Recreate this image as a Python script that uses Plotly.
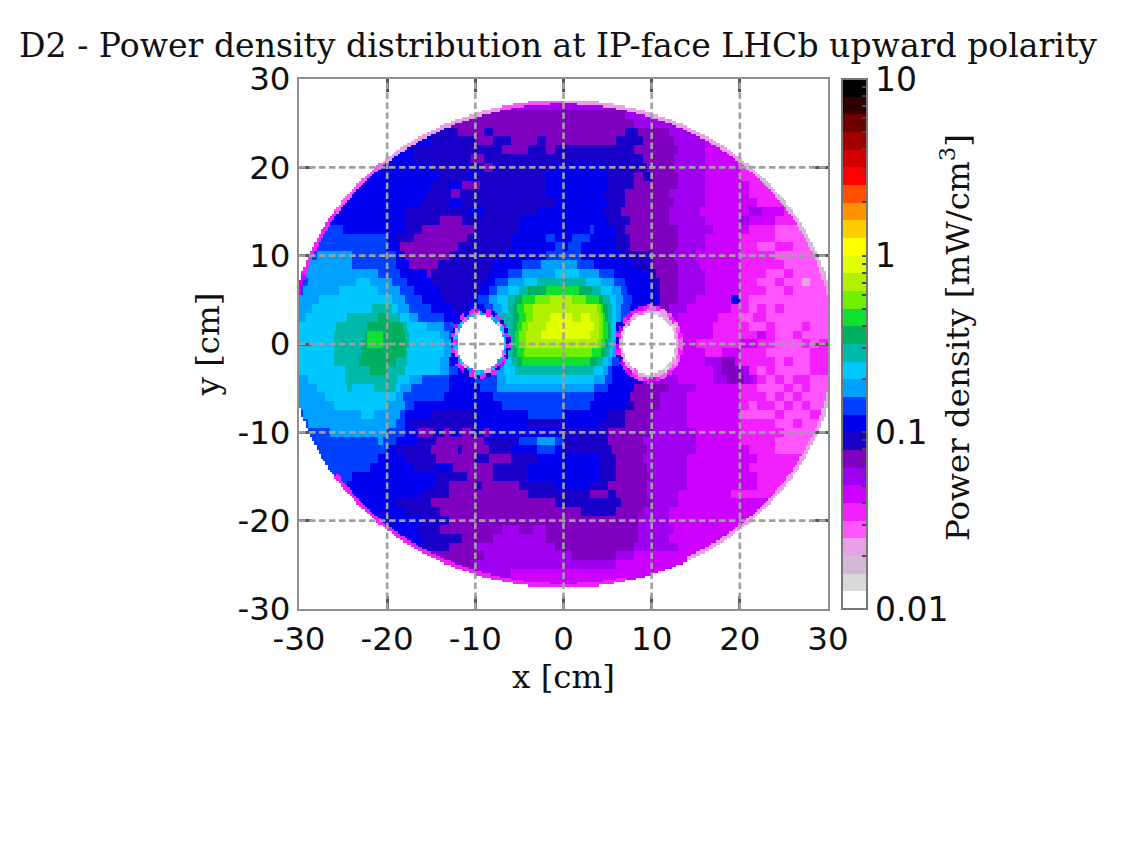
import numpy as np
import plotly.graph_objects as go

TITLE = "D2 - Power density distribution at IP-face LHCb upward polarity"
CB_TITLE = "Power density [mW/cm<sup>3</sup>]"
BAND_COLORS = ["#ffffff", "#d9d9d9", "#d4b8d8", "#e8a0e8", "#ff55ff", "#f020ff", "#cc00ff", "#a000f0",
               "#8000c0", "#1800c8", "#0000f0", "#0040ff", "#00a0ff", "#00c8ff", "#00b8a8", "#00b060",
               "#10e030", "#70f000", "#b0f000", "#e0ff00", "#ffff00", "#ffcc00", "#ff9000", "#ff5000",
               "#ff0000", "#d00000", "#a00000", "#700000", "#300000", "#000000"]
AXIS_TICKS = [-30, -20, -10, 0, 10, 20, 30]
AXIS_LABELS = ["-30", "-20", "-10", "0", "10", "20", "30"]
CB_TICKS = [0.01, 0.1, 1, 10]
CB_LABELS = ["0.01", "0.1", "1", "10"]
CB_MINOR = [0.02, 0.03, 0.04, 0.05, 0.06, 0.07, 0.08, 0.09, 0.2, 0.3, 0.4, 0.5, 0.6, 0.7, 0.8, 0.9,
            2, 3, 4, 5, 6, 7, 8, 9]

# Colour band for each row (y, in cm, from +27 to -27): "band:x_end" runs.
ROW_Y = list(range(27, -28, -1))
ROWS = [
    "7:30",
    "7:-10 8:7 7:30",
    "8:8 7:30",
    "9:-12 8:-9 9:-8 8:7 9:8.5 8:12 7:30",
    "a:-15 9:-10 8:-8 9:-6 8:-3 9:-2 8:6 9:9 8:12.5 7:16 6:30",
    "a:-17 9:-7 8:-4 9:-2 8:-1 9:8 8:13 7:16 6:30",
    "a:-17 9:-10.5 8:-9 9:9 8:12.5 7:16 6:30",
    "a:-15 9:-9 8:-8 9:-1 a:5 9:9.5 8:12.5 7:16 6:20 5:30",
    "a:-14 9:-11 a:-10 9:-2 a:5 9:8 8:9 9:10 8:13 7:16 6:20 5:30",
    "a:-15 9:-13 a:-11.5 8:-9.5 9:-2 a:5 9:8 8:13 7:16 6:21 5:30",
    "a:-15.5 9:-12.7 8:-11.7 9:-2 a:4.5 9:7 8:12 7:16 6:21 5:30",
    "a:-16 9:-13 a:-11.5 9:-1 a:5 9:7 8:12.5 7:16 6:22 5:30",
    "b:-26 a:-18 9:-11 a:-9 9:-3 a:4.5 9:6.5 8:12 7:15.5 6:21 7:22.5 6:25 5:30",
    "b:-27 a:-18 9:-14 8:-11.5 9:-5 a:5 9:7.5 8:12 7:16 6:20 7:21 6:24 5:30",
    "b:-25 a:-18 9:-16 8:-10 9:-5 a:3 b:3.5 a:6 9:7 8:13 7:17 6:21 5:24 4:30",
    "b:-20 a:-19 9:-17 8:-11 9:-6 a:-2 b:-1 a:1 b:3 a:6 9:7.5 8:13 7:16 6:20 5:24 4:30",
    "b:-20 a:-18.5 8:-12 9:-6 a:-1 b:0 a:0.5 b:2 a:6 9:7.5 8:13 7:16 6:20 5:22 4:24 5:26 4:30",
    "b:-28 c:-24 b:-19 a:-18 8:-13 9:-7 a:-2 b:2 a:7 9:10 8:12.5 7:15 6:20 5:24 4:30",
    "c:-24 b:-19 a:-17.4 8:-14.3 9:-8 a:-4.8 b:-2.5 c:1.5 b:3.5 a:8 9:10 8:13 7:15.5 6:20 5:25 4:30",
    "b:-29.5 c:-21 b:-18.5 a:-15.6 8:-15 9:-8.5 a:-6.3 b:-4.8 c:-1 d:1.7 c:3.9 b:5.8 a:9.5 9:10.5 8:13 7:16 6:20 5:23 4:25 5:26 4:30",
    "b:-29 c:-23.5 d:-22 c:-19.5 b:-17.8 a:-15 9:-9 a:-7.8 b:-6.3 c:-4.4 d:-2.9 e:2.4 d:4.3 c:5.8 b:6.9 a:10 9:11 8:13 7:16 6:20 5:22 4:24 5:25 4:27 3:28 4:30",
    "b:-29.5 c:-25.5 d:-21 c:-18.5 b:-17 a:-14 9:-9.5 a:-8.5 b:-7.6 c:-6.3 d:-5.1 e:-4 f:-2.1 g:1.7 f:3.2 e:4.3 d:5.4 c:6.4 b:7.3 a:10.5 9:11 8:13 7:16 6:20 5:23 4:25 5:26 4:30",
    "c:-27.8 d:-19.5 c:-18 b:-16 a:-13.5 9:-10.5 a:-9.7 b:-8.5 c:-7.5 d:-6.3 e:-5.5 f:-4.8 g:-3.3 h:-1.5 i:1 h:2.5 g:4 f:4.6 e:5.2 d:5.9 c:6.7 b:7.7 a:11 8:13 7:15 6:19 a:20 5:21 4:30",
    "c:-28.5 d:-21.8 e:-19.5 d:-18.8 c:-17.5 b:-15 a:-12.5 9:-11 a:-9 b:-8 c:-7 d:-6.2 e:-5.7 f:-5.2 g:-4.6 h:-3.5 i:3.7 h:4.2 g:4.6 f:5 e:5.4 d:5.9 c:6.5 b:7.5 a:10 9:11 8:12 7:14 6:19 5:21 4:22 5:23 4:24 5:25 4:30",
    "c:-29.3 d:-24.4 e:-21 f:-19.9 e:-18.4 d:-17.6 c:-16.5 b:-13.5 a:-9 e:-5.8 f:-5 g:-4.3 h:-3.6 i:-1.5 j:1 i:2 j:3 i:4 h:4.5 g:4.8 f:5.1 e:5.5 d:6 c:6.5 b:8 a:10 7:13 6:17.5 5:20 4:21.5 5:23 4:30",
    "d:-25.7 e:-22.3 f:-18.2 e:-17.8 d:-15.5 c:-13.5 b:-12.5 a:-9 e:-5.8 f:-5.3 g:-4.7 h:-4 i:-2 j:-0.6 k:0.1 j:3.5 i:4 h:4.5 g:4.9 f:5.2 e:5.5 d:6 a:10 6:17 5:21 4:23 5:24 4:27 5:28 4:30",
    "d:-25.9 e:-22.5 f:-22.2 g:-20.6 f:-18 e:-17.6 d:-13.9 c:-13 b:-12.5 a:-9 e:-5.8 f:-5.4 g:-5 h:-4.2 i:-2.5 j:3 i:4 h:4.5 g:4.9 f:5.2 e:5.5 d:6 a:10 6:17 5:22 6:23 5:24 4:26 5:27 4:30",
    "d:-26 e:-22.7 f:-22.2 g:-20.6 f:-17.8 e:-17.6 d:-13.5 c:-12.5 a:-9 e:-5.8 f:-5.5 g:-5 h:-4.2 i:3.8 h:4.3 g:4.8 f:5.1 e:5.4 d:5.8 c:6 a:10 6:15 5:20 6:22 5:24 4:27 5:28 4:29 5:30",
    "d:-26 e:-23 f:-18 e:-17.8 d:-13.5 c:-12.8 a:-9 e:-5.7 f:-5.2 g:-4.5 h:3.2 g:4.2 f:4.8 e:5.2 d:5.6 c:6 a:10 6:16 5:18 6:20 5:23 4:28 5:30",
    "d:-26 e:-23.3 f:-19 e:-17.8 d:-14 c:-13 a:-9 d:-6 e:-5.3 f:-4.7 g:3 f:3.8 e:4.5 d:5 c:5.5 b:6.2 a:10 6:16 7:18 8:19.5 6:20 5:24 4:25 5:26 4:28 5:30",
    "d:-24.8 e:-22 f:-20 e:-18 d:-14 c:-13 b:-12 a:-9 c:-6.8 d:-5.5 e:3.5 d:4.5 c:5 b:5.5 a:10 6:17 7:18 8:20 7:21 5:22 4:23 5:24 4:28 5:30",
    "c:-29 d:-24.8 e:-18.8 d:-17.6 c:-16 b:-13 a:-10 b:-7.5 c:-6.5 d:3.5 c:4.8 b:5.5 a:9 7:13 6:17 7:18.5 8:20.5 7:21.5 6:22 5:23 4:24 5:25 4:26 5:28 4:30",
    "c:-28 d:-24.6 e:-24 d:-21.4 e:-19 d:-18.4 c:-17.2 b:-13 a:-9.5 b:-7.5 c:3.5 b:5 a:8 8:12 7:15 6:20 5:22 4:25 5:26 4:27 5:28 4:30",
    "c:-27 d:-19 c:-18.2 b:-13.5 a:-8 b:3.5 a:7.5 8:11 7:14 6:20 5:23 4:24 5:25 4:26 5:27 4:30",
    "c:-26 d:-20 c:-18 b:-17 a:-7 b:3 a:7 9:8 8:11 7:14 6:20 5:21 4:22 5:24 4:25 5:26 4:27 5:28 4:30",
    "b:-29.5 c:-23 d:-21.5 c:-18.5 b:-18 a:-15 9:-10 a:-4 b:0 a:5 9:7 8:10 7:14 6:20 4:24 5:25 4:28 5:30",
    "b:-29 c:-19 b:-18 a:-17.5 9:-10 a:-4 9:0 a:4 9:7 8:10 7:14 6:20 5:24 4:26 5:27 4:30",
    "b:-26.5 c:-20 b:-18 a:-16.5 8:-14.7 9:-13.5 8:-13 9:-11.5 8:-10.5 9:-9 8:-8.5 a:0 9:5 8:10 7:15 6:20 5:25 4:30",
    "b:-21 c:-20.5 b:-19 a:-16.5 9:-14.5 8:-9 9:-5 b:-3 c:-1 b:0 9:5 8:9 7:15 6:20 5:24 4:30",
    "b:-20 a:-19 9:-15 8:-12 9:-11.5 8:-8.5 9:-6 a:-3 b:-1 a:0 9:5.5 8:9.5 7:15 6:21 5:24 4:30",
    "b:-21 a:-18 9:-14.5 8:-10 9:-8.5 8:-6 9:-3 a:4 9:6 8:9 7:14 6:22 5:30",
    "b:-22 a:-17 9:-14.5 a:-13 9:-12.5 8:-8 9:-4 a:4 9:6 8:9.5 7:14 6:21 5:30",
    "b:-24 a:-14.5 9:-11 8:-8 9:-4 a:4 9:6 8:10 7:14 6:22 5:30",
    "b:-24.5 a:-14.7 9:-13 8:-10 9:-9.3 8:-5 9:-1 a:3 9:5 8:9.5 7:14 6:22 5:30",
    "a:-16 9:-13 8:-4 9:3 8:5 9:6 8:9.5 7:13 6:19 5:30",
    "a:-19 9:-15 8:-1 9:6.5 8:10 7:13 6:30",
    "a:-18 9:-14 8:2 9:6 8:9 7:12 6:30",
    "a:-16 9:-13 8:8.5 7:12 6:30",
    "a:-16.5 9:-14 8:-7 7:-5 8:-3.5 7:-2 8:8.5 7:12.5 6:30",
    "a:-16 9:-11.5 8:-8 7:-2 8:8.5 7:12 6:30",
    "9:-13 8:-10 7:-1 8:8 7:13 6:30",
    "8:-9 7:1 8:6 7:8 6:30",
    "8:-10 7:6 6:30",
    "7:-6 6:30",
    "6:30",
]
# Band of the thin outer rim, per 15 degree sector counter-clockwise from +x (-1: no rim drawn).
RIM_BANDS = [3, 2, 2, 3, 3, 3, 4, 3, 3, 4, 5, 6,
             -1, -1, 5, 5, 5, 5, 5, 6, 3, 3, 3, 2]
# Speckled rings round the two beam holes, per 10 degree sector: inner and outer layer.
LEFT_IN = [13, 12, 4, 13, 3, 12, 13, 5, 12, 3, 13, 12, 4, 13, 12, 3, 13, 5,
           12, 13, 4, 12, 13, 3, 12, 5, 13, 12, 3, 13, 5, 12, 13, 4, 12, 13]
LEFT_OUT = [9, 5, 10, 6, 9, 5, 10, 5, 9, 6, 5, 10, 5, 9, 6, 10, 5, 9,
            11, 5, 9, 10, 5, 6, 9, 5, 10, 5, 9, 5, 10, 6, 5, 9, 10, 5]
RIGHT_IN = [2, 3, 2, 1, 3, 2, 3, 1, 2, 3, 4, 2, 3, 4, 2, 1, 3, 2,
            1, 2, 3, 1, 2, 3, 4, 3, 2, 1, 3, 2, 1, 2, 3, 1, 2, 3]
RIGHT_OUT = [4, 5, 4, 3, 5, 4, 3, 5, 4, 5, 6, 5, 6, 5, 9, 6, 5, 9,
             6, 5, 9, 6, 5, 6, 5, 4, 5, 6, 5, 4, 5, 4, 3, 4, 5, 4]
OUTER_A, OUTER_B = 31.0, 27.6
LEFT_HOLE = (-9.45, 0.1, 2.65, 3.1)
RIGHT_HOLE = (9.7, 0.0, 2.95, 3.4)
RING_MID, RING_END = 1.14, 1.29


def band_of(ch):
    return int(ch, 36)


xs = np.arange(-29.875, 30, 0.25)
ys = np.arange(27.625, -27.7, -0.25)
Z = np.full((len(ys), len(xs)), np.nan)
parsed = [[(band_of(p.split(":")[0]), float(p.split(":")[1])) for p in r.split()] for r in ROWS]
for i, y in enumerate(ys):
    k = int(np.clip(round(y), -27, 27))
    runs = parsed[ROW_Y.index(k)]
    for j, x in enumerate(xs):
        band = next((b for b, e in runs if x < e), runs[-1][0])
        rho = np.hypot(x / OUTER_A, y / OUTER_B)
        if rho > 1:
            continue
        sec = int((np.degrees(np.arctan2(y, x)) % 360) // 15)
        if rho > 0.984 and RIM_BANDS[sec] >= 0:
            band = RIM_BANDS[sec]
        hole = False
        for (cx, cy, a, b), inner, outer in ((LEFT_HOLE, LEFT_IN, LEFT_OUT), (RIGHT_HOLE, RIGHT_IN, RIGHT_OUT)):
            r = np.hypot((x - cx) / a, (y - cy) / b)
            s = int((np.degrees(np.arctan2(y - cy, x - cx)) % 360) // 10)
            if r < 1:
                hole = True
            elif r < RING_MID:
                band = inner[s]
            elif r < RING_END:
                band = outer[s]
        if not hole:
            Z[i, j] = -2 + (band + 0.5) * 0.1

colorscale = []
for n, c in enumerate(BAND_COLORS):
    colorscale += [[n / 30, c], [(n + 1) / 30, c]]

cb_vals = [float(np.log10(v)) for v in CB_TICKS + CB_MINOR]
cb_text = CB_LABELS + [" "] * len(CB_MINOR)

fig = go.Figure(go.Heatmap(
    x=xs, y=ys, z=Z, zmin=-2, zmax=1, colorscale=colorscale, hoverongaps=False,
    colorbar=dict(
        x=(842 - 299) / 529, xanchor="left", y=0, yanchor="bottom", lenmode="pixels", len=530,
        thickness=25, thicknessmode="pixels", xpad=0, ypad=0,
        outlinecolor="#777777", outlinewidth=2, tickmode="array", tickvals=cb_vals, ticktext=cb_text,
        ticks="inside", ticklen=6, tickcolor="#444444", tickwidth=2,
        tickfont=dict(family="DejaVu Sans", size=33, color="#111111"),
    ),
))

shapes = []
for t in AXIS_TICKS[1:-1]:
    common = dict(type="line", layer="above", line=dict(color="#a0a0a0", width=2.6, dash="6.5px,3.5px"))
    shapes.append(dict(xref="x", yref="y", x0=t, x1=t, y0=AXIS_TICKS[0], y1=AXIS_TICKS[-1], **common))
    shapes.append(dict(xref="x", yref="y", x0=AXIS_TICKS[0], x1=AXIS_TICKS[-1], y0=t, y1=t, **common))

axis = dict(range=[-30, 30], tickmode="array", tickvals=AXIS_TICKS, ticktext=AXIS_LABELS, ticks="inside",
            ticklen=13, tickwidth=2.5, tickcolor="#555555", showline=True, mirror="ticks", linecolor="#909090",
            linewidth=2, showgrid=False, zeroline=False,
            tickfont=dict(family="DejaVu Sans", size=32.5, color="#111111"))
label_font = dict(family="DejaVu Serif", size=32.5, color="#111111")
fig.update_layout(
    width=1120, height=833, paper_bgcolor="white", plot_bgcolor="white",
    margin=dict(l=291, r=300, t=71, b=232, autoexpand=False),
    title=dict(text=TITLE, x=550 / 1120, xanchor="center", y=1 - 37 / 833, yanchor="middle",
               font=dict(family="DejaVu Serif", size=33.1, color="#111111")),
    xaxis=dict(axis, title=dict(text="x [cm]", standoff=8, font=label_font)),
    yaxis=dict(axis, title=dict(text="y [cm]", standoff=8, font=label_font)),
    shapes=shapes,
    annotations=[dict(text=CB_TITLE, xref="paper", yref="paper", x=(955 - 299) / 529, y=(609 - 338) / 530,
                      xanchor="center", yanchor="middle", textangle=-90, showarrow=False, font=label_font)],
)
fig.write_html("out.html")
